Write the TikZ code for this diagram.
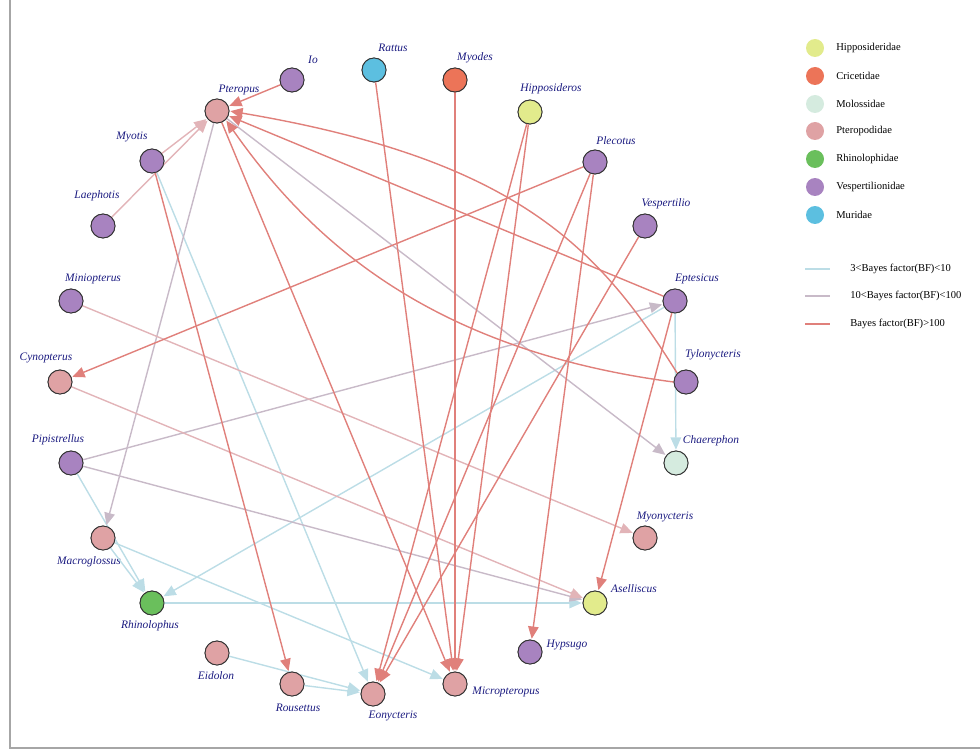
\documentclass[tikz,border=0pt]{standalone}
\usepackage{fontspec}
\setmainfont{Liberation Serif}
\usetikzlibrary{arrows.meta}
\definecolor{cHip}{HTML}{E2EB8C}
\definecolor{cCri}{HTML}{EC7458}
\definecolor{cMol}{HTML}{D5EBDF}
\definecolor{cPte}{HTML}{DFA2A4}
\definecolor{cRhi}{HTML}{6ABF5C}
\definecolor{cVes}{HTML}{A883C0}
\definecolor{cMur}{HTML}{5CBFE0}
\definecolor{eB}{HTML}{BCDDE6}
\definecolor{eG}{HTML}{C8BAC8}
\definecolor{eR}{HTML}{E0807B}
\definecolor{eP}{HTML}{E2B4B8}
\definecolor{lab}{HTML}{1A1A80}
\tikzset{x=0.02cm,y=-0.02cm,
 bat/.style={circle,draw=black!80,line width=0.5pt,minimum size=0.48cm,inner sep=0pt},
 lb/.style={font=\itshape\fontsize{6.5}{8}\selectfont,text=lab,inner sep=1pt},
 eb/.style={draw=eB,line width=0.8pt,-{Triangle[length=7pt,width=6pt]},shorten >=0.5pt},
 eg/.style={draw=eG,line width=0.8pt,-{Triangle[length=7pt,width=6pt]},shorten >=0.5pt},
 er/.style={draw=eR,line width=0.8pt,-{Triangle[length=7pt,width=6pt]},shorten >=0.5pt},
 ep/.style={draw=eP,line width=0.8pt,-{Triangle[length=7pt,width=6pt]},shorten >=0.5pt},
 lg/.style={font=\fontsize{6}{8}\selectfont,anchor=west,inner sep=0pt}}
\begin{document}
\begin{tikzpicture}
\path[use as bounding box] (0,0) rectangle (980,753);
\draw[gray!70,line width=0.6pt] (10,-5) -- (10,748) -- (985,748);
% nodes
\node[bat,fill=cVes] (Io) at (292,80) {}; \node[lb] at (313,60) {Io};
\node[bat,fill=cMur] (Rattus) at (374,70) {}; \node[lb] at (393,48) {Rattus};
\node[bat,fill=cCri] (Myodes) at (455,80) {}; \node[lb] at (475,58) {Myodes};
\node[bat,fill=cHip] (Hipposideros) at (530,112) {}; \node[lb] at (551,89) {Hipposideros};
\node[bat,fill=cPte] (Pteropus) at (217,111) {}; \node[lb] at (239,90) {Pteropus};
\node[bat,fill=cVes] (Plecotus) at (595,162) {}; \node[lb] at (616,141) {Plecotus};
\node[bat,fill=cVes] (Myotis) at (152,161) {}; \node[lb] at (132,137) {Myotis};
\node[bat,fill=cVes] (Vespertilio) at (645,226) {}; \node[lb] at (666,204) {Vespertilio};
\node[bat,fill=cVes] (Laephotis) at (103,226) {}; \node[lb] at (97,196) {Laephotis};
\node[bat,fill=cVes] (Eptesicus) at (675,301) {}; \node[lb] at (697,279) {Eptesicus};
\node[bat,fill=cVes] (Miniopterus) at (71,301) {}; \node[lb] at (93,279) {Miniopterus};
\node[bat,fill=cVes] (Tylonycteris) at (686,382) {}; \node[lb] at (713,355) {Tylonycteris};
\node[bat,fill=cPte] (Cynopterus) at (60,382) {}; \node[lb] at (46,358) {Cynopterus};
\node[bat,fill=cMol] (Chaerephon) at (676,463) {}; \node[lb] at (711,441) {Chaerephon};
\node[bat,fill=cVes] (Pipistrellus) at (71,463) {}; \node[lb] at (58,440) {Pipistrellus};
\node[bat,fill=cPte] (Myonycteris) at (645,538) {}; \node[lb] at (665,517) {Myonycteris};
\node[bat,fill=cPte] (Macroglossus) at (103,538) {}; \node[lb] at (89,562) {Macroglossus};
\node[bat,fill=cHip] (Aselliscus) at (595,603) {}; \node[lb] at (634,589) {Aselliscus};
\node[bat,fill=cRhi] (Rhinolophus) at (152,603) {}; \node[lb] at (150,626) {Rhinolophus};
\node[bat,fill=cVes] (Hypsugo) at (530,652) {}; \node[lb] at (567,645) {Hypsugo};
\node[bat,fill=cPte] (Eidolon) at (217,653) {}; \node[lb] at (216,676) {Eidolon};
\node[bat,fill=cPte] (Micropteropus) at (455,684) {}; \node[lb] at (506,692) {Micropteropus};
\node[bat,fill=cPte] (Rousettus) at (292,684) {}; \node[lb] at (298,708) {Rousettus};
\node[bat,fill=cPte] (Eonycteris) at (373,694) {}; \node[lb] at (393,716) {Eonycteris};
% edges
\draw[eb] (Myotis) -- (Eonycteris);
\draw[eb] (Eptesicus) -- (Chaerephon);
\draw[eb] (Eptesicus) -- (Rhinolophus);
\draw[eb] (Pipistrellus) -- (Rhinolophus);
\draw[eb] (Macroglossus) -- (Rhinolophus);
\draw[eb] (Macroglossus) -- (Micropteropus);
\draw[eb] (Rhinolophus) -- (Aselliscus);
\draw[eb] (Eidolon) -- (Eonycteris);
\draw[eb] (Rousettus) -- (Eonycteris);
\draw[eg] (Pteropus) -- (Chaerephon);
\draw[eg] (Pteropus) -- (Macroglossus);
\draw[eg] (Pipistrellus) -- (Eptesicus);
\draw[eg] (Pipistrellus) -- (Aselliscus);
\draw[ep] (Myotis) -- (Pteropus);
\draw[ep] (Laephotis) -- (Pteropus);
\draw[ep] (Miniopterus) -- (Myonycteris);
\draw[ep] (Cynopterus) -- (Aselliscus);
\draw[er] (Io) -- (Pteropus);
\draw[er] (Rattus) -- (Micropteropus);
\draw[er] (Myodes) -- (Micropteropus);
\draw[er] (Hipposideros) -- (Eonycteris);
\draw[er] (Hipposideros) -- (Micropteropus);
\draw[er] (Plecotus) -- (Cynopterus);
\draw[er] (Plecotus) -- (Eonycteris);
\draw[er] (Plecotus) -- (Hypsugo);
\draw[er] (Vespertilio) -- (Eonycteris);
\draw[er] (Eptesicus) -- (Pteropus);
\draw[er] (Eptesicus) -- (Aselliscus);
\draw[er] (Pteropus) -- (Micropteropus);
\draw[er] (Myotis) -- (Rousettus);
\draw[er] (Tylonycteris.north west) .. controls (600,250) and (520,160) .. (Pteropus.east);
\draw[er] (Tylonycteris.west) .. controls (430,350) and (310,240) .. (Pteropus.south east);
% redraw nodes on top
\foreach \n/\c in {Io/cVes,Rattus/cMur,Myodes/cCri,Hipposideros/cHip,Pteropus/cPte,Plecotus/cVes,Myotis/cVes,Vespertilio/cVes,Laephotis/cVes,Eptesicus/cVes,Miniopterus/cVes,Tylonycteris/cVes,Cynopterus/cPte,Chaerephon/cMol,Pipistrellus/cVes,Myonycteris/cPte,Macroglossus/cPte,Aselliscus/cHip,Rhinolophus/cRhi,Hypsugo/cVes,Eidolon/cPte,Micropteropus/cPte,Rousettus/cPte,Eonycteris/cPte}
  \draw[black!80,line width=0.5pt,fill=\c] (\n.center) circle (0.24cm);
% legend
\foreach \y/\c/\t in {48/cHip/Hipposideridae,76/cCri/Cricetidae,104/cMol/Molossidae,131/cPte/Pteropodidae,159/cRhi/Rhinolophidae,187/cVes/Vespertilionidae,215/cMur/Muridae}{
  \node[circle,fill=\c,minimum size=0.36cm,inner sep=0pt] (lg\t) at (815,\y) {};
  \node[lg] at (836,\y) {\t};}
\foreach \y/\c/\t [count=\i] in {269/eB/3<Bayes factor(BF)<10,296/eG/10<Bayes factor(BF)<100,324/eR/Bayes factor(BF)>100}{
  \coordinate (la\i) at (805,\y); \coordinate (lb\i) at (830,\y);
  \draw[\c,line width=0.8pt] (la\i) -- (lb\i);
  \node[lg] at (850,\y) {\t};}
\end{tikzpicture}
\end{document}
